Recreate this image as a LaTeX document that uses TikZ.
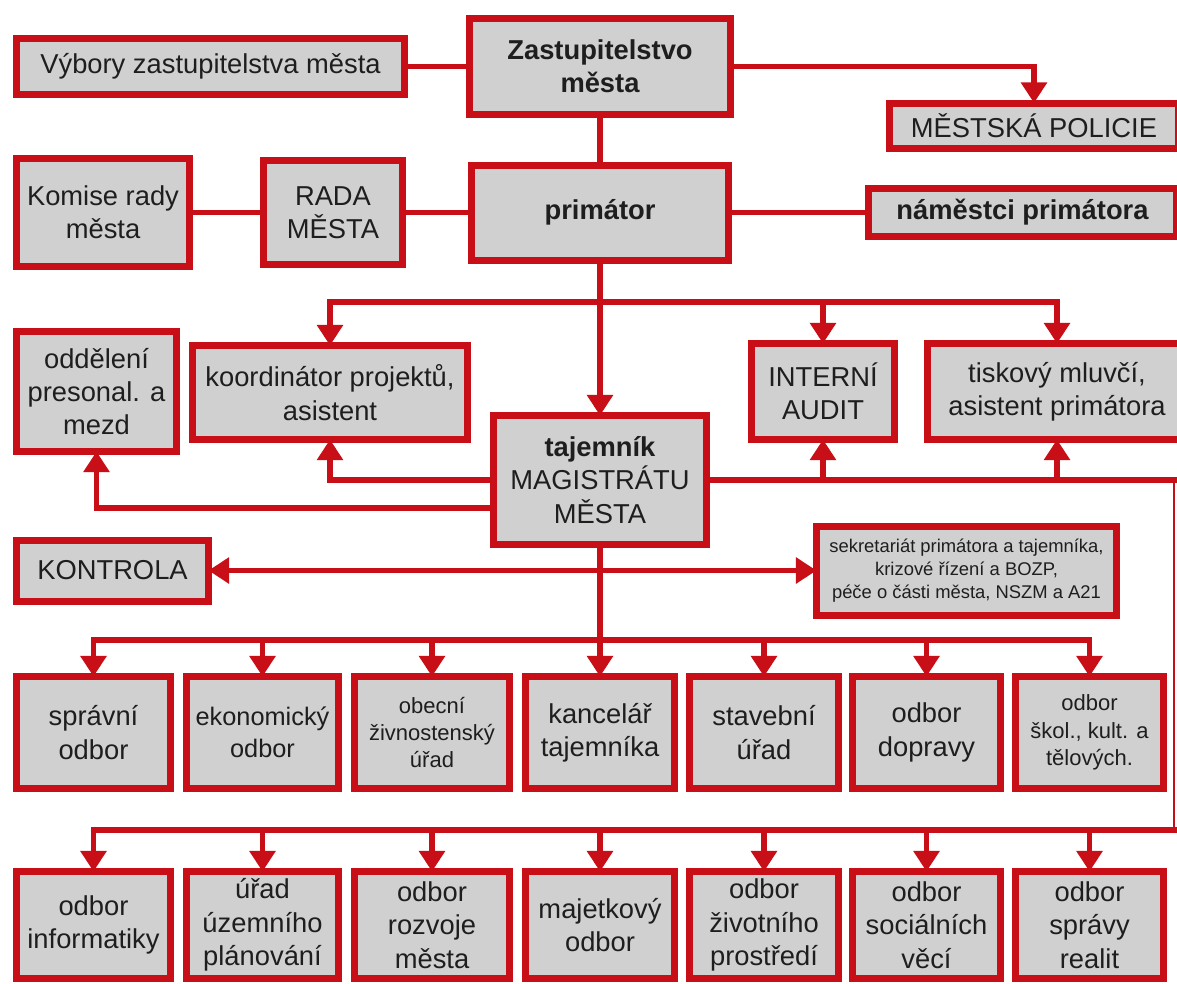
\documentclass[tikz,border=0pt]{standalone}
\usepackage{fontspec}
\setmainfont{Liberation Sans}
\usetikzlibrary{arrows.meta}
\definecolor{bred}{RGB}{200,14,22}
\definecolor{boxgray}{RGB}{208,208,208}
\definecolor{txt}{RGB}{30,30,30}
\newcommand{\fsmain}{\fontsize{20.5}{25}\selectfont}
\newcommand{\fsmid}{\fontsize{19}{24}\selectfont}
\newcommand{\fssmall}{\fontsize{16.5}{20.5}\selectfont}
\newcommand{\fstiny}{\fontsize{13.8}{17}\selectfont}
\tikzset{
  box/.style={draw=bred, line width=5.25pt, fill=boxgray, text=txt, align=center,
              inner sep=0pt, outer sep=0pt, font=\fsmain},
  sz/.style 2 args={minimum width=#1*0.75pt, minimum height=#2*0.75pt},
  ln/.style={draw=bred, line width=4pt, line cap=rect},
  arr/.style={ln, -{Triangle[width=19pt,length=15.5pt]}},
  darr/.style={ln, {Triangle[width=19pt,length=15.5pt]}-{Triangle[width=19pt,length=15.5pt]}},
  thinln/.style={draw=bred, line width=1.5pt},
}
\begin{document}
\begin{tikzpicture}[x=0.75pt,y=-0.75pt]
\useasboundingbox (0,0) rectangle (1177,983);
\fill[white] (0,0) rectangle (1177,983);
\clip (0,0) rectangle (1177,983);

% top
\node[box, sz={261}{96}, font=\fsmain\bfseries] (zast) at (600,66.5) {Zastupitelstvo\\města};
\node[box, sz={388}{56}] (vybory) at (210.5,66.5) {Výbory zastupitelstva města};
\node[box, sz={289}{45}] (policie) at (1034,125.5) {MĚSTSKÁ POLICIE};
\node[box, sz={173}{108}] (komise) at (103,212.5) {Komise rady\\města};
\node[box, sz={139}{104}] (rada) at (333,212.5) {RADA\\MĚSTA};
\node[box, sz={257}{95}, font=\fsmain\bfseries] (primator) at (600,212.5) {primátor};
\node[box, sz={308}{48}, font=\fsmain\bfseries] (namestci) at (1022.5,212.5) {náměstci primátora};

% middle
\node[box, sz={160}{120}] (oddeleni) at (96.5,391.5) {oddělení\\presonal. a\\mezd};
\node[box, sz={275}{94}] (koord) at (330,392.5) {koordinátor projektů,\\asistent};
\node[box, sz={143}{96}] (audit) at (823,391.5) {INTERNÍ\\AUDIT};
\node[box, sz={259}{96}] (tiskovy) at (1057,391.5) {tiskový mluvčí,\\asistent primátora};
\node[box, sz={213}{129}] (tajemnik) at (600,480) {\textbf{tajemník}\\MAGISTRÁTU\\MĚSTA};
\node[box, sz={192}{61}] (kontrola) at (112.5,570.5) {KONTROLA};
\node[box, sz={300}{89}, font=\fstiny] (sekretariat) at (966.5,570.5)
  {sekretariát primátora a tajemníka,\\krizové řízení a BOZP,\\péče o části města, NSZM a A21};

% row 1
\node[box, sz={154}{112}] (r11) at (93.5,732.5) {správní\\odbor};
\node[box, sz={152}{112}, font=\fsmid] (r12) at (262.5,732.5) {ekonomický\\odbor};
\node[box, sz={155}{112}, font=\fssmall] (r13) at (432,732.5) {obecní\\živnostenský\\úřad};
\node[box, sz={149}{112}] (r14) at (600,732.5) {kancelář\\tajemníka};
\node[box, sz={149}{112}] (r15) at (764,732.5) {stavební\\úřad};
\node[box, sz={148}{112}] (r16) at (926.5,732.5) {odbor\\dopravy};
\node[box, sz={148}{112}, font=\fssmall] (r17) at (1089.5,732.5) {odbor\\škol., kult. a\\tělových.};

% row 2
\node[box, sz={154}{107}] (r21) at (93.5,925) {odbor\\informatiky};
\node[box, sz={152}{107}] (r22) at (262.5,925) {úřad\\územního\\plánování};
\node[box, sz={155}{107}] (r23) at (432,925) {odbor\\rozvoje\\města};
\node[box, sz={149}{107}] (r24) at (600,925) {majetkový\\odbor};
\node[box, sz={149}{107}] (r25) at (764,925) {odbor\\životního\\prostředí};
\node[box, sz={148}{107}] (r26) at (926.5,925) {odbor\\sociálních\\věcí};
\node[box, sz={148}{107}] (r27) at (1089.5,925) {odbor\\správy\\realit};

% helper coordinates
\coordinate (b1) at (600,302);
\coordinate (yL2) at (0,508);
\coordinate (rc) at (1174,480);
\coordinate (b2) at (600,640);
\coordinate (b3) at (1174,830);

% top connectors
\draw[ln] (vybory.east) -- (zast.west |- vybory.east);
\draw[arr] (zast.east) -| (policie.north);
\draw[ln] (zast.south) -- (primator.north);
\draw[ln] (komise.east) -- (rada.west);
\draw[ln] (rada.east) -- (primator.west |- rada.east);
\draw[ln] (primator.east |- namestci.west) -- (namestci.west);

% primator branch
\draw[arr] (primator.south) -- (tajemnik.north);
\draw[ln] (koord.north |- b1) -- (tiskovy.north |- b1);
\draw[arr] (koord.north |- b1) -- (koord.north);
\draw[arr] (audit.north |- b1) -- (audit.north);
\draw[arr] (tiskovy.north |- b1) -- (tiskovy.north);

% tajemnik side branches
\draw[arr] (tajemnik.west) -| (koord.south);
\draw[arr] (tajemnik.west |- yL2) -| (oddeleni.south);
\draw[ln] (tajemnik.east) -- (rc);
\draw[arr] (audit.south |- rc) -- (audit.south);
\draw[arr] (tiskovy.south |- rc) -- (tiskovy.south);
\draw[thinln] (rc) -- (b3);
\draw[darr] (kontrola.east) -- (sekretariat.west);

% trunk and row buses
\draw[ln] (tajemnik.south) -- (b2);
\draw[ln] (r11.north |- b2) -- (r17.north |- b2);
\foreach \n in {r11,r12,r13,r14,r15,r16,r17}
  \draw[arr] (\n.north |- b2) -- (\n.north);
\draw[ln] (r21.north |- b3) -- (b3);
\foreach \n in {r21,r22,r23,r24,r25,r26,r27}
  \draw[arr] (\n.north |- b3) -- (\n.north);
\end{tikzpicture}
\end{document}
